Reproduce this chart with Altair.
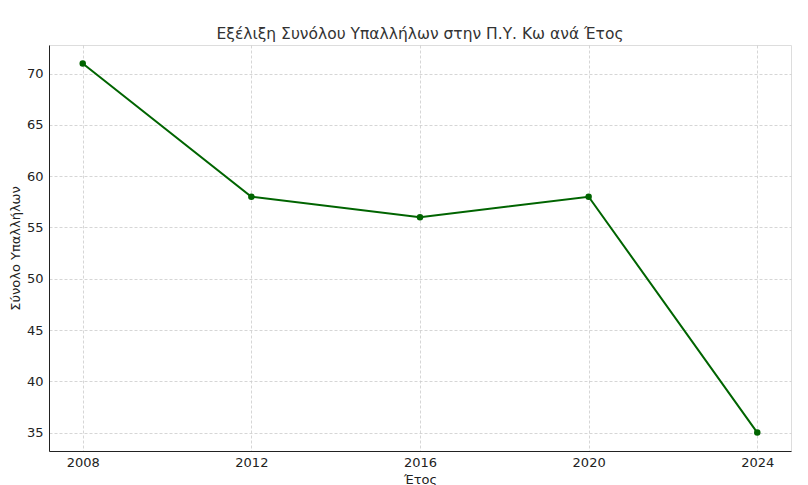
import altair as alt
import pandas as pd

years = [2008, 2012, 2016, 2020, 2024]
employees = [71, 58, 56, 58, 35]
x_ticks = [2008, 2012, 2016, 2020, 2024]
y_ticks = [35, 40, 45, 50, 55, 60, 65, 70]

df = pd.DataFrame({"Έτος": years, "Σύνολο": employees})

font = "DejaVu Sans"

base = alt.Chart(df).encode(
    x=alt.X("Έτος:Q",
            scale=alt.Scale(domain=[2007.2, 2024.8], nice=False, zero=False),
            axis=alt.Axis(values=x_ticks, format="d", title="Έτος",
                          grid=True, gridDash=[3, 2], gridColor="#cccccc", gridWidth=0.8,
                          domainColor="#222222", domainWidth=1,
                          ticks=False,
                          labelFont=font, labelFontSize=13, labelColor="#222222",
                          labelPadding=5,
                          titleFont=font, titleFontSize=13, titleFontWeight="normal",
                          titleColor="#222222", titlePadding=4)),
    y=alt.Y("Σύνολο:Q",
            scale=alt.Scale(domain=[33.2, 72.8], nice=False, zero=False),
            axis=alt.Axis(values=y_ticks, title="Σύνολο Υπαλλήλων",
                          grid=True, gridDash=[3, 2], gridColor="#cccccc", gridWidth=0.8,
                          domainColor="#222222", domainWidth=1,
                          ticks=False,
                          labelFont=font, labelFontSize=13, labelColor="#222222",
                          labelPadding=6,
                          titleFont=font, titleFontSize=13, titleFontWeight="normal",
                          titleColor="#222222", titlePadding=4)),
)

line = base.mark_line(color="#006400", strokeWidth=2)
points = base.mark_point(color="#006400", filled=True, opacity=1, size=42)

chart = (line + points).properties(
    width=742,
    height=406,
    title=alt.TitleParams("Εξέλιξη Συνόλου Υπαλλήλων στην Π.Υ. Κω ανά Έτος",
                          font=font, fontSize=15.5, fontWeight="normal",
                          color="#333333", offset=3),
    padding={"left": 41, "top": 37, "right": 8, "bottom": 40},
    autosize=alt.AutoSizeParams(type="none"),
).configure_view(stroke=None).configure(background="white")

chart.save("out.html", embed_options={"renderer": "svg", "actions": False})
